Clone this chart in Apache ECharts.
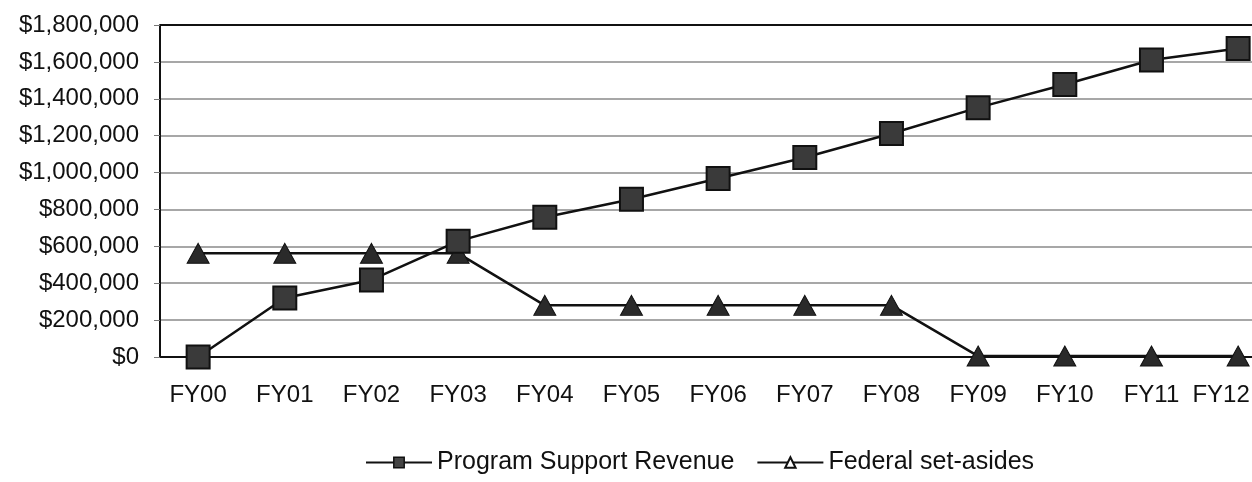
<html>
<head>
<meta charset="UTF-8">
<script src="https://cdn.jsdelivr.net/npm/echarts@6/dist/echarts.min.js"></script>
<style>html,body,#container{width:100%;height:100%;margin:0;padding:0;background:#fff;}</style>
</head>
<body>
<div id="container"></div>
<script>
var years = ['FY00','FY01','FY02','FY03','FY04','FY05','FY06','FY07','FY08','FY09','FY10','FY11','FY12'];
var programSupport = [0, 320000, 418000, 628000, 758000, 855000, 968000, 1082000, 1212000, 1352000, 1477000, 1610000, 1672000];
var federalSetAsides = [562000, 562000, 562000, 562000, 280000, 280000, 280000, 280000, 280000, 5000, 5000, 5000, 5000];

function pairs(vals) {
	var out = [];
	for (var i = 0; i < vals.length; i++) out.push([i, vals[i]]);
	return out;
}
var idx = years.map(function (y, i) { return i; });

var myChart = echarts.init(document.getElementById('container'));
myChart.setOption({
	animation: false,
	textStyle: { fontFamily: 'Liberation Sans, Arial, sans-serif', color: '#111' },
	grid: { left: 160, right: 0, top: 25, bottom: 125, outerBoundsMode: 'none' },
	legend: {
		bottom: 2, left: 360, itemWidth: 66, itemHeight: 13, itemGap: 22,
		textStyle: { fontSize: 25, color: '#111' },
		data: [
			{ name: 'Program Support Revenue', itemStyle: { color: '#444', borderColor: '#111', borderWidth: 1.5 } },
			{ name: 'Federal set-asides', itemStyle: { color: '#fff', borderColor: '#111', borderWidth: 2 } }
		]
	},
	xAxis: {
		type: 'value', min: -0.44, max: 12.16,
		splitLine: { show: false },
		axisLine: { lineStyle: { color: '#111', width: 2 } },
		axisTick: { show: false },
		axisLabel: {
			customValues: idx, fontSize: 24, color: '#111', margin: 26,
			formatter: function (v) {
				var i = Math.round(v);
				// last label sits a little left of its point so it stays on the page
				return i === years.length - 1 ? '{last|' + years[i] + '}' : years[i];
			},
			rich: { last: { fontSize: 24, color: '#111', padding: [0, 34, 0, 0] } }
		}
	},
	yAxis: {
		type: 'value', min: 0, max: 1800000, interval: 200000,
		axisLine: { show: true, onZero: false, lineStyle: { color: '#111', width: 2 } },
		axisTick: { show: true, length: 6, lineStyle: { color: '#777' } },
		splitLine: { lineStyle: { color: '#8a8a8a', width: 1.5 } },
		axisLabel: {
			fontSize: 24, color: '#111', margin: 21,
			formatter: function (v) { return '$' + v.toLocaleString('en-US'); }
		}
	},
	series: [{
		name: 'Program Support Revenue', type: 'line', data: pairs(programSupport),
		symbol: 'rect', symbolSize: 23, z: 3,
		lineStyle: { color: '#111', width: 2.5 },
		itemStyle: { color: '#3a3a3a', borderColor: '#111', borderWidth: 2 },
		markLine: {
			silent: true, symbol: 'none', label: { show: false },
			lineStyle: { color: '#111', width: 2, type: 'solid' },
			data: [{ yAxis: 1800000 }]
		}
	}, {
		name: 'Federal set-asides', type: 'line', data: pairs(federalSetAsides),
		symbol: 'triangle', symbolSize: [22, 20], z: 2,
		lineStyle: { color: '#111', width: 2.5 },
		itemStyle: { color: '#2a2a2a', borderColor: '#111', borderWidth: 1 }
	}]
});
window.onresize = function () { myChart.resize(); };
</script>
</body>
</html>
